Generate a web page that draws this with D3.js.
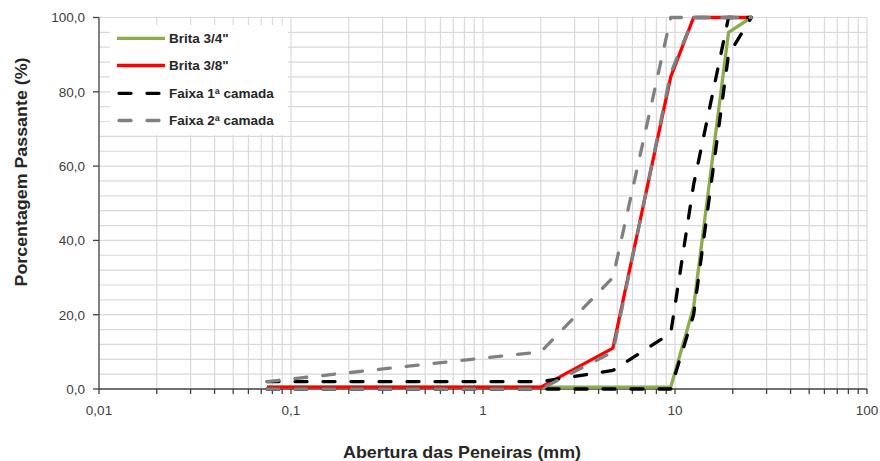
<!DOCTYPE html>
<html><head><meta charset="utf-8">
<script src="https://cdn.jsdelivr.net/npm/d3@7"></script>
<style>body{margin:0;background:#fff}svg{display:block}</style>
</head><body>
<svg id="c" width="880" height="461"></svg>
<script>
const sieves = [0.075, 2.0, 4.75, 9.5, 12.5, 19, 25];
const brita34 = [0.5, 0.5, 0.5, 0.5, 22, 96, 100];
const brita38 = [0.5, 0.5, 11, 84, 100, 100, 100];
const faixa1Inf = [0, 0, 0, 0, 20, 90, 100];
const faixa1Sup = [2, 2, 5, 15, 55, 100, 100];
const faixa2Inf = [0, 0, 10, 85, 100, 100, 100];
const faixa2Sup = [2, 10, 30, 100, 100, 100, 100];
const xTickValues = [0.01, 0.1, 1, 10, 100];
const xTickLabels = ["0,01", "0,1", "1", "10", "100"];
const yTickValues = [0, 20, 40, 60, 80, 100];
const seriesNames = ["Brita 3/4\"", "Brita 3/8\"", "Faixa 1ª camada", "Faixa 2ª camada"];

const svg = d3.select("#c");
const font = "'Liberation Sans', Arial, sans-serif";
const x = d3.scaleLog().domain([0.01, 100]).range([99, 867]);
const y = d3.scaleLinear().domain([0, 100]).range([389, 17.5]);

const minor = [];
for (let e = -2; e < 2; e++) for (let k = 1; k <= 9; k++) minor.push(k * Math.pow(10, e));
minor.push(100);

const g = svg.append("g");
g.selectAll("line.vg").data(minor.filter(v => v > 0.01)).enter().append("line")
  .attr("x1", d => x(d)).attr("x2", d => x(d)).attr("y1", y(100)).attr("y2", y(0))
  .attr("stroke", "#d9d9d9").attr("stroke-width", 1.2);
g.selectAll("line.hg").data(d3.range(4, 101, 4)).enter().append("line")
  .attr("x1", x(0.01)).attr("x2", x(100)).attr("y1", d => y(d)).attr("y2", d => y(d))
  .attr("stroke", "#d9d9d9").attr("stroke-width", 1.2);

const line = d3.line().x(d => x(d[0])).y(d => y(d[1]));
const series = [
  {v: brita34, color: "#8aac4c", dash: null},
  {v: brita38, color: "#ff0000", dash: null},
  {v: faixa1Inf, color: "#000000", dash: "12,16"},
  {v: faixa1Sup, color: "#000000", dash: "12,16"},
  {v: faixa2Inf, color: "#808080", dash: "12,16"},
  {v: faixa2Sup, color: "#808080", dash: "12,16"}
];

const axG = svg.append("g");
axG.append("line").attr("x1", x(0.01)).attr("x2", x(100)).attr("y1", y(0)).attr("y2", y(0))
  .attr("stroke", "#404040").attr("stroke-width", 1.3);
axG.append("line").attr("x1", x(0.01)).attr("x2", x(0.01)).attr("y1", y(0)).attr("y2", y(100))
  .attr("stroke", "#404040").attr("stroke-width", 1.3);
axG.selectAll("line.xt").data(minor).enter().append("line")
  .attr("x1", d => x(d)).attr("x2", d => x(d)).attr("y1", y(0)).attr("y2", y(0) + 5)
  .attr("stroke", "#404040").attr("stroke-width", 1.3);
axG.selectAll("line.yt").data(yTickValues).enter().append("line")
  .attr("x1", x(0.01) - 6).attr("x2", x(0.01)).attr("y1", d => y(d)).attr("y2", d => y(d))
  .attr("stroke", "#404040").attr("stroke-width", 1.3);
axG.selectAll("text.xl").data(xTickValues).enter().append("text")
  .attr("x", d => x(d)).attr("y", 415).attr("text-anchor", "middle")
  .attr("font-family", font).attr("font-size", 13.5).attr("fill", "#404040")
  .text((d, i) => xTickLabels[i]);
axG.selectAll("text.yl").data(yTickValues).enter().append("text")
  .attr("x", 85).attr("y", d => y(d) + 4.8).attr("text-anchor", "end")
  .attr("font-family", font).attr("font-size", 13.5).attr("fill", "#404040")
  .text(d => d3.format(".1f")(d).replace(".", ","));

series.forEach(s => {
  svg.append("path").datum(sieves.map((sv, i) => [sv, s.v[i]]))
    .attr("d", line).attr("fill", "none").attr("stroke", s.color)
    .attr("stroke-width", 3.3).attr("stroke-dasharray", s.dash)
    .attr("stroke-linecap", s.dash ? "round" : "butt").attr("stroke-linejoin", "round");
});

svg.append("text").attr("x", 462).attr("y", 458).attr("text-anchor", "middle")
  .attr("font-family", font).attr("font-size", 16.5).attr("font-weight", "bold").attr("fill", "#262626")
  .attr("textLength", 238).attr("lengthAdjust", "spacingAndGlyphs")
  .text("Abertura das Peneiras (mm)");
svg.append("text").attr("transform", "translate(27,172) rotate(-90)").attr("text-anchor", "middle")
  .attr("font-family", font).attr("font-size", 16.5).attr("font-weight", "bold").attr("fill", "#262626")
  .attr("textLength", 229).attr("lengthAdjust", "spacingAndGlyphs")
  .text("Porcentagem Passante (%)");

const lg = svg.append("g");
lg.append("rect").attr("x", 110).attr("y", 25).attr("width", 178).attr("height", 110).attr("fill", "#fff");
const legendItems = [
  {color: "#8aac4c", dash: null},
  {color: "#ff0000", dash: null},
  {color: "#000000", dash: "12,16"},
  {color: "#808080", dash: "12,16"}
];
const rowsY = [38.3, 65.5, 93.3, 120.5];
legendItems.forEach((it, i) => {
  lg.append("line").attr("x1", it.dash ? 119 : 117).attr("x2", 165).attr("y1", rowsY[i]).attr("y2", rowsY[i])
    .attr("stroke", it.color).attr("stroke-width", 3.3).attr("stroke-dasharray", it.dash)
    .attr("stroke-linecap", it.dash ? "round" : "butt");
  lg.append("text").attr("x", 169).attr("y", rowsY[i] + 4.6)
    .attr("font-family", font).attr("font-size", 13.5).attr("font-weight", "bold").attr("fill", "#262626")
    .text(seriesNames[i]);
});
</script>
</body></html>
